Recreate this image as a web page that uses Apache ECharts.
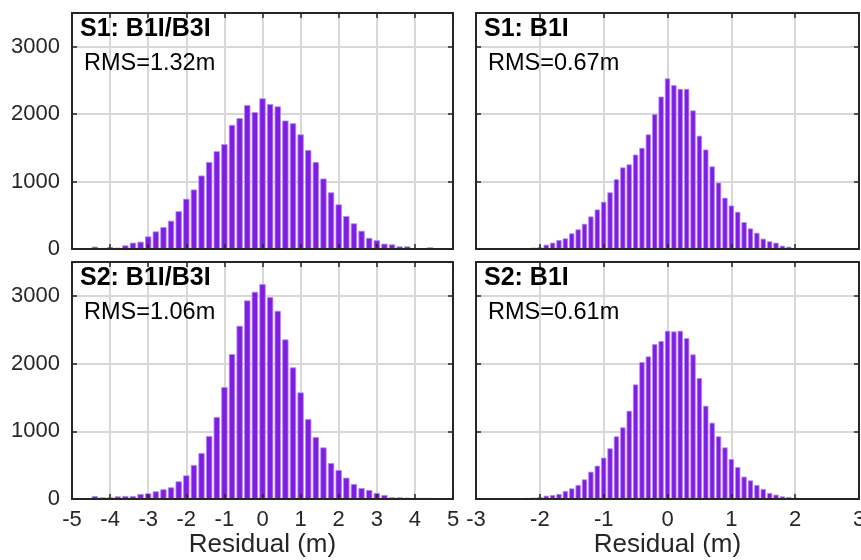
<!DOCTYPE html>
<html>
<head>
<meta charset="utf-8">
<title>Residual histograms</title>
<script src="https://cdn.jsdelivr.net/npm/echarts@6/dist/echarts.min.js"></script>
<style>
  html, body { margin: 0; padding: 0; background: #fff; }
  #chart { width: 861px; height: 560px; }
</style>
</head>
<body>
<div id="chart"></div>
<script>
// bin centres (m)
const binsWide = [-4.4, -4.2, -4.0, -3.8, -3.6, -3.4, -3.2, -3.0, -2.8, -2.6, -2.4, -2.2, -2.0, -1.8, -1.6,
  -1.4, -1.2, -1.0, -0.8, -0.6, -0.4, -0.2, 0, 0.2, 0.4, 0.6, 0.8, 1.0, 1.2, 1.4, 1.6, 1.8, 2.0, 2.2,
  2.4, 2.6, 2.8, 3.0, 3.2, 3.4, 3.6, 3.8, 4.0, 4.2, 4.4];
const binsNarrow = [-2.2, -2.1, -2.0, -1.9, -1.8, -1.7, -1.6, -1.5, -1.4, -1.3, -1.2, -1.1, -1.0, -0.9, -0.8,
  -0.7, -0.6, -0.5, -0.4, -0.3, -0.2, -0.1, 0, 0.1, 0.2, 0.3, 0.4, 0.5, 0.6, 0.7, 0.8, 0.9, 1.0, 1.1,
  1.2, 1.3, 1.4, 1.5, 1.6, 1.7, 1.8, 1.9, 2.0, 2.1, 2.2];

// counts per bin
const s1Dual = [35, 15, 30, 20, 54, 94, 108, 187, 261, 325, 419, 560, 745, 882, 1090,
  1290, 1450, 1555, 1840, 1940, 2135, 2030, 2235, 2150, 2115, 1905, 1865, 1700, 1468, 1290,
  1045, 840, 662, 488, 380, 270, 165, 130, 79, 69, 39, 39, 10, 0, 25];
const s1Single = [10, 20, 25, 64, 94, 133, 158, 232, 291, 374, 483, 586, 700, 840, 1035,
  1210, 1255, 1400, 1500, 1700, 2000, 2260, 2530, 2430, 2375, 2375, 2055, 1680, 1475, 1225,
  985, 760, 645, 552, 399, 305, 241, 153, 113, 94, 49, 34, 15, 10, 5];
const s2Dual = [44, 25, 25, 39, 44, 44, 74, 84, 113, 143, 172, 261, 349, 502, 679,
  930, 1210, 1653, 2140, 2558, 2932, 3060, 3173, 2981, 2779, 2356, 1943, 1574, 1181, 915,
  762, 531, 428, 315, 221, 162, 133, 89, 59, 25, 25, 20, 15, 15, 15];
const s2Single = [15, 20, 30, 49, 59, 74, 118, 157, 207, 290, 403, 492, 610, 748, 925,
  1058, 1303, 1692, 2022, 2105, 2287, 2332, 2484, 2474, 2484, 2376, 2135, 1786, 1377, 1126,
  925, 762, 590, 472, 330, 275, 207, 148, 89, 64, 39, 30, 20, 10, 5];

const titles = ['S1: B1I/B3I', 'S1: B1I', 'S2: B1I/B3I', 'S2: B1I'];
const rmsText = ['RMS=1.32m', 'RMS=0.67m', 'RMS=1.06m', 'RMS=0.61m'];

const FONT = 'Liberation Sans, Arial, Helvetica, sans-serif';
const INK = '#262626';

const panels = [
  { bins: binsWide, counts: s1Dual, left: 72, top: 13, width: 381, height: 236, xmin: -5, xmax: 5, barW: 6.3, xLab: false, yLab: true },
  { bins: binsNarrow, counts: s1Single, left: 476, top: 13, width: 383, height: 236, xmin: -3, xmax: 3, barW: 5.3, xLab: false, yLab: false },
  { bins: binsWide, counts: s2Dual, left: 72, top: 262, width: 381, height: 237, xmin: -5, xmax: 5, barW: 6.3, xLab: true, yLab: true },
  { bins: binsNarrow, counts: s2Single, left: 476, top: 262, width: 383, height: 237, xmin: -3, xmax: 3, barW: 5.3, xLab: true, yLab: false }
];

const grid = [], xAxis = [], yAxis = [], series = [], graphic = [];

const axisLine = { show: true, onZero: false, lineStyle: { color: INK, width: 2 } };
const axisTick = { show: true, inside: true, length: 5, lineStyle: { color: INK, width: 1.5 } };
const noLine = { show: false };
const gridLine = { show: true, lineStyle: { color: '#d8d8d8', width: 2 } };

panels.forEach((p, i) => {
  grid.push({ left: p.left, top: p.top, width: p.width, height: p.height, outerBoundsMode: 'none', containLabel: false });

  // x: [0] grid lines under the bars, [1] bottom frame + labels, [2] top frame
  const xBase = { type: 'value', gridIndex: i, min: p.xmin, max: p.xmax, interval: 1 };
  xAxis.push(Object.assign({}, xBase, {
    position: 'bottom', z: 0, axisLine: noLine, axisTick: noLine, axisLabel: noLine, splitLine: gridLine
  }));
  xAxis.push(Object.assign({}, xBase, {
    position: 'bottom', z: 5, axisLine, axisTick, splitLine: noLine,
    axisLabel: { show: p.xLab, color: INK, fontSize: 22, fontFamily: FONT, margin: 10, hideOverlap: false }
  }));
  xAxis.push(Object.assign({}, xBase, {
    position: 'top', z: 5, axisLine, axisTick, splitLine: noLine, axisLabel: noLine
  }));

  const yBase = { type: 'value', gridIndex: i, min: 0, max: 3500, interval: 1000 };
  yAxis.push(Object.assign({}, yBase, {
    position: 'left', z: 0, axisLine: noLine, axisTick: noLine, axisLabel: noLine, splitLine: gridLine
  }));
  yAxis.push(Object.assign({}, yBase, {
    position: 'left', z: 5, axisLine, axisTick, splitLine: noLine,
    axisLabel: {
      show: p.yLab, color: INK, fontSize: 22, fontFamily: FONT, margin: 12,
      formatter: v => (v > 3000 ? '' : String(v))
    }
  }));
  yAxis.push(Object.assign({}, yBase, {
    position: 'right', z: 5, axisLine, axisTick, splitLine: noLine, axisLabel: noLine
  }));

  series.push({
    type: 'bar',
    xAxisIndex: 3 * i,
    yAxisIndex: 3 * i,
    data: p.bins.map((b, j) => [b, p.counts[j]]),
    barWidth: p.barW,
    itemStyle: { color: '#7f1de6', borderColor: '#b48cf0', borderWidth: 0.8 },
    z: 2
  });

  graphic.push({
    type: 'text', x: p.left + 8, y: p.top + 16, z: 10,
    style: { text: titles[i], font: 'bold 25px ' + FONT, fill: '#000', verticalAlign: 'middle' }
  });
  graphic.push({
    type: 'text', x: p.left + 12, y: p.top + 51, z: 10,
    style: { text: rmsText[i], font: '23.5px ' + FONT, fill: '#000', verticalAlign: 'middle' }
  });
  if (p.xLab) {
    graphic.push({
      type: 'text', x: p.left + p.width / 2, y: 545, z: 10,
      style: { text: 'Residual (m)', font: '26px ' + FONT, fill: INK, align: 'center', verticalAlign: 'middle' }
    });
  }
});

const chart = echarts.init(document.getElementById('chart'), null, { renderer: 'canvas' });
chart.setOption({
  animation: false,
  backgroundColor: '#fff',
  grid, xAxis, yAxis, series, graphic
});
</script>
</body>
</html>
